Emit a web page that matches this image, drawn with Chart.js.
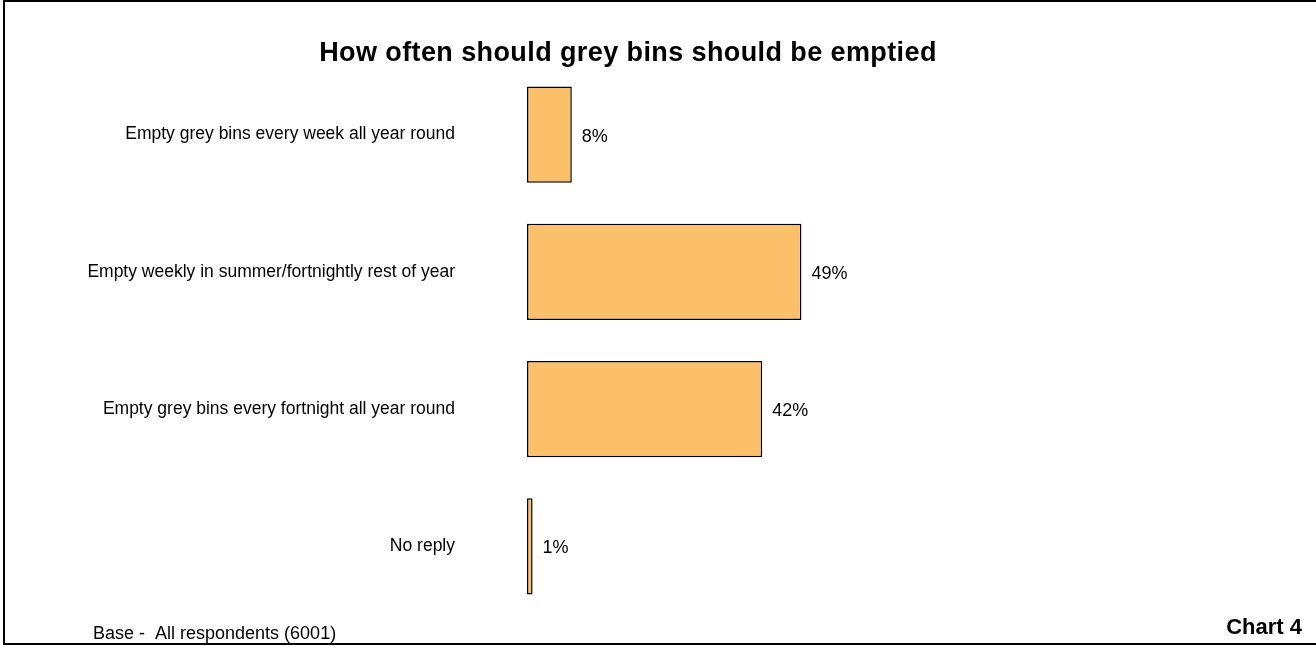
<!DOCTYPE html>
<html>
<head>
<meta charset="utf-8">
<script src="https://cdn.jsdelivr.net/npm/chart.js@4/dist/chart.umd.min.js"></script>
<style>
 html,body{margin:0;padding:0;background:#fff;overflow:hidden;}
 #wrap{width:1316px;height:646px;position:relative;}
</style>
</head>
<body>
<div id="wrap"><canvas id="chart"></canvas></div>
<script>
// data
const categories=[
 'Empty grey bins every week all year round',
 'Empty weekly in summer/fortnightly rest of year',
 'Empty grey bins every fortnight all year round',
 'No reply'
];
const percents=[8,49,42,1];
const titleText='How often should grey bins should be emptied';
const baseText='Base -  All respondents (6001)';
const chartNo='Chart 4';

const FONT='"Liberation Sans", Arial, sans-serif';

// frame + title + footnotes
const decor={
 id:'decor',
 afterDraw(c){
  const ctx=c.ctx;
  ctx.save();
  ctx.strokeStyle='#000';
  ctx.lineWidth=2;
  ctx.beginPath();
  ctx.moveTo(1316,1);ctx.lineTo(4,1);ctx.lineTo(4,644);ctx.lineTo(1316,644);
  ctx.stroke();

  ctx.fillStyle='#000';
  ctx.textBaseline='middle';
  ctx.textAlign='center';
  ctx.font='bold 27px '+FONT;
  ctx.letterSpacing='0.4px';
  ctx.fillText(titleText,628,54);
  ctx.letterSpacing='0px';

  ctx.textAlign='left';
  ctx.font='18px '+FONT;
  ctx.fillText(baseText,93,634);

  ctx.textAlign='right';
  ctx.font='bold 22px '+FONT;
  ctx.fillText(chartNo,1302,628);
  ctx.restore();
 }
};

// value labels next to bars
const valueLabels={
 id:'valueLabels',
 afterDatasetsDraw(c){
  const ctx=c.ctx;
  const meta=c.getDatasetMeta(0);
  ctx.save();
  ctx.fillStyle='#000';
  ctx.font='18px '+FONT;
  ctx.textAlign='left';
  ctx.textBaseline='middle';
  meta.data.forEach((bar,i)=>{
   ctx.fillText(percents[i]+'%',bar.x+10,bar.y+2);
  });
  ctx.restore();
 }
};

new Chart(document.getElementById('chart'),{
 type:'bar',
 data:{
  labels:categories,
  datasets:[{
   data:percents,
   backgroundColor:'#FDC06A',
   borderColor:'#000',
   borderWidth:1.5,
   borderSkipped:false,
   barPercentage:0.7,
   categoryPercentage:1
  }]
 },
 options:{
  indexAxis:'y',
  responsive:true,
  maintainAspectRatio:false,
  animation:false,
  layout:{padding:{left:0,right:229,top:66,bottom:31}},
  plugins:{legend:{display:false},tooltip:{enabled:false},title:{display:false}},
  scales:{
   x:{display:false,min:0,max:100},
   y:{
    grid:{display:false,drawTicks:false},
    border:{display:false},
    ticks:{color:'#000',padding:72,font:{family:FONT,size:17.5}},
    afterFit(s){s.width=527;s.paddingTop=0;s.paddingBottom=0;}
   }
  }
 },
 plugins:[decor,valueLabels]
});
</script>
</body>
</html>
